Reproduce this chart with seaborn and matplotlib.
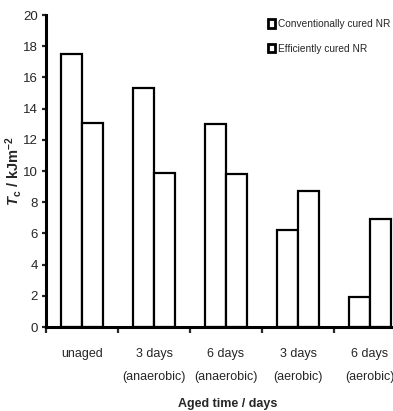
import matplotlib
matplotlib.use("Agg")
import matplotlib.pyplot as plt
from matplotlib.patches import Patch
import seaborn as sns
import pandas as pd

# Fracture energy of natural rubber after ageing
categories = ["unaged", "3 days\n(anaerobic)", "6 days\n(anaerobic)",
              "3 days\n(aerobic)", "6 days\n(aerobic)"]
series_names = ["Conventionally cured NR", "Efficiently cured NR"]
conventional = [17.5, 15.3, 13.0, 6.2, 1.9]
efficient = [13.1, 9.9, 9.8, 8.7, 6.9]
y_ticks = [0, 2, 4, 6, 8, 10, 12, 14, 16, 18, 20]

df = pd.DataFrame({
    "cat": categories * 2,
    "series": [series_names[0]] * len(categories) + [series_names[1]] * len(categories),
    "Tc": conventional + efficient,
})

sns.set_style("ticks")
plt.rcParams["font.family"] = ["Liberation Sans Narrow", "Liberation Sans", "DejaVu Sans"]
plt.rcParams["mathtext.fontset"] = "custom"
plt.rcParams["mathtext.rm"] = "Liberation Sans"
plt.rcParams["mathtext.it"] = "Liberation Sans:italic"
plt.rcParams["mathtext.bf"] = "Liberation Sans:bold"
plt.rcParams["mathtext.bfit"] = "Liberation Sans:bold:italic"

fig = plt.figure(figsize=(3.93, 4.11), dpi=100)
ax = fig.add_axes([46 / 393, 84 / 411, 360 / 393, 312 / 411])

sns.barplot(data=df, x="cat", y="Tc", hue="series", order=categories,
            hue_order=series_names, palette=["white", "white"],
            edgecolor="black", linewidth=1.6, width=0.58, gap=0,
            saturation=1, legend=False, ax=ax)

ax.set_xlim(-0.5, 4.5)
ax.set_ylim(0, 20)
ax.set_yticks(y_ticks)
ax.set_yticklabels([str(t) for t in y_ticks], fontsize=9.5)

# boundaries between groups get tick marks, group centres get the labels
ax.set_xticks([-0.5, 0.5, 1.5, 2.5, 3.5])
ax.set_xticklabels([])
ax.set_xticks(range(len(categories)), minor=True)
ax.set_xticklabels(categories, minor=True, fontsize=9, va="top", ha="center",
                   linespacing=2.25)
ax.tick_params(axis="x", which="minor", length=0, pad=15)
ax.tick_params(axis="x", which="major", length=4, width=1.6, direction="out")
ax.tick_params(axis="y", length=3, width=1.6, direction="out", pad=3)

for side in ["top", "right"]:
    ax.spines[side].set_visible(False)
for side in ["left", "bottom"]:
    ax.spines[side].set_linewidth(2.2)
    ax.spines[side].set_color("black")

ax.set_xlabel("Aged time / days", fontsize=9, fontweight="bold",
              family=["Liberation Sans", "DejaVu Sans"])
ax.xaxis.set_label_coords((228 - 46) / 360, -(404 - 327) / 312)
ax.xaxis.label.set_va("center")
ax.set_ylabel(r"$\mathbfit{T}_{\mathbf{c}}$ / kJm$^{\mathbf{-2}}$", fontsize=10.5,
              fontweight="bold", family=["Liberation Sans", "DejaVu Sans"])
ax.yaxis.set_label_coords(-(46 - 13) / 360, 0.5)
ax.yaxis.label.set_va("center")

handles = [Patch(facecolor="white", edgecolor="black", linewidth=2.0)
           for _ in series_names]
fig.legend(handles, series_names, loc="upper left",
           bbox_to_anchor=(268 / 393, 1 - 19 / 411), frameon=False,
           fontsize=7.3, handlelength=0.65, handleheight=0.85, handletextpad=0.3,
           labelspacing=1.45, borderaxespad=0, borderpad=0)

fig.savefig("out.png", dpi=100)
